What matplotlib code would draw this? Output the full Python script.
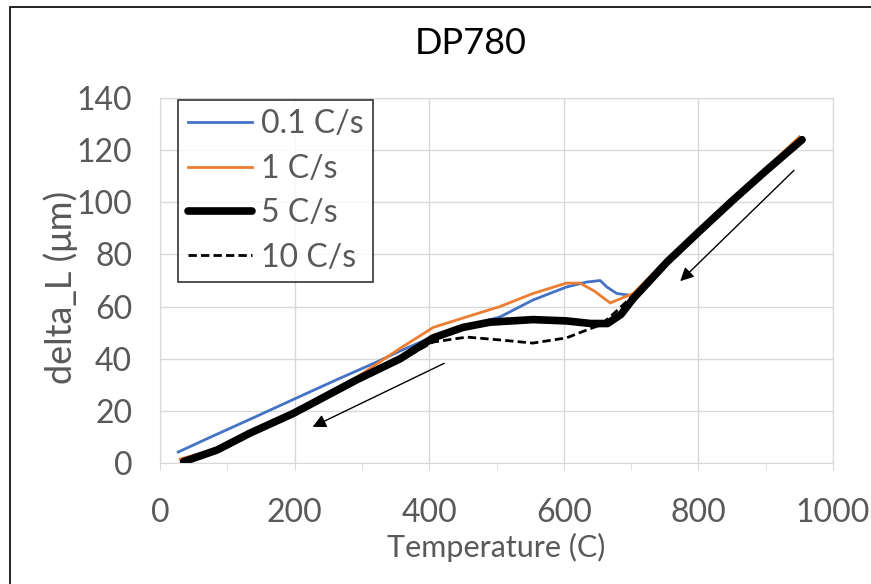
import matplotlib.pyplot as plt
from matplotlib.patches import Rectangle

# Data (temperature in C, delta_L in um)
t_01 = [27, 80, 140, 200, 263, 320, 357, 406, 455, 505, 554, 604, 634, 654, 664, 679, 694, 703,
        753, 800, 850, 900, 950]
l_01 = [4.2, 10.5, 17.5, 24.6, 32, 38.5, 43, 48.5, 52.5, 56, 62.5, 67.5, 69.4, 70, 67.5, 65, 64.5,
        64, 76, 88, 100, 112.5, 125]

t_1 = [30, 85, 134, 198, 293, 357, 406, 455, 505, 554, 604, 624, 645, 669, 684, 703,
       753, 800, 850, 900, 950]
l_1 = [1.5, 5.5, 12, 19.5, 33, 44, 52, 56, 60, 65, 69, 69, 66, 61.4, 63, 65,
       78, 89, 101, 113, 125]

t_5 = [35, 85, 134, 198, 293, 357, 406, 450, 490, 554, 604, 640, 665, 685, 703,
       753, 800, 850, 900, 954]
l_5 = [0.5, 5, 11.5, 19, 32, 40, 48, 52, 54, 55, 54.5, 53.5, 53.5, 57, 63,
       77, 88.5, 100.5, 112, 124]

t_10 = [35, 85, 134, 198, 293, 357, 406, 456, 505, 554, 604, 634, 655, 675, 700,
        753, 800, 850, 900, 954]
l_10 = [0.3, 4.5, 11, 18.5, 31.5, 39.5, 46.4, 48.3, 47.2, 46, 48, 51, 53, 57.5, 63.5,
        77, 88.5, 100.5, 112, 124.5]

gray = "#595959"
plt.rcParams["font.family"] = ["Lato", "DejaVu Sans"]

fig = plt.figure(figsize=(8.71, 5.84), dpi=100)
ax = fig.add_axes([160 / 871, 1 - 463 / 584, 673 / 871, 365 / 584])

ax.plot(t_01, l_01, color="#4472C4", lw=2, label="0.1 C/s")
ax.plot(t_1, l_1, color="#ED7D31", lw=2, label="1 C/s")
ax.plot(t_5, l_5, color="black", lw=5.5, label="5 C/s", solid_capstyle="round")
ax.plot(t_10, l_10, color="black", lw=2, ls=(0, (3, 1.5)), label="10 C/s")

# arrows showing cooling direction
ax.annotate("", xy=(223, 13.4), xytext=(426, 38.7),
            arrowprops=dict(arrowstyle="-|>", color="black", lw=1, mutation_scale=20))
ax.annotate("", xy=(770, 69), xytext=(945, 113),
            arrowprops=dict(arrowstyle="-|>", color="black", lw=1, mutation_scale=20))

ax.set_xlim(0, 1000)
ax.set_ylim(0, 140)
ax.set_xticks(range(0, 1001, 200))
ax.set_xticks(range(0, 1001, 100), minor=True)
ax.set_yticks(range(0, 141, 20))
ax.grid(True, color="#D9D9D9", lw=1)
for s in ax.spines.values():
    s.set_color("#D9D9D9")
ax.tick_params(axis="x", which="both", length=5, color="#D9D9D9", labelsize=23,
               labelcolor=gray, pad=20)
ax.tick_params(axis="y", length=0, labelsize=23, labelcolor=gray, pad=20)

fig.text(471 / 871, 1 - 43 / 584, "DP780", fontsize=26, color="black",
         ha="center", va="center")
ax.set_xlabel("Temperature (C)", fontsize=22, color=gray, labelpad=4)
ax.set_ylabel("delta_L (\u03bcm)", fontsize=26, color=gray)
ax.yaxis.set_label_coords(-0.122, 0.48)

leg = ax.legend(loc="upper left", bbox_to_anchor=(0.027, 0.995), borderaxespad=0,
                fontsize=23, frameon=True, fancybox=False, edgecolor="black",
                handlelength=2.0, handletextpad=0.3, labelspacing=0.45,
                borderpad=0.3)
leg.get_frame().set_linewidth(1.2)
for txt in leg.get_texts():
    txt.set_color(gray)

# outer border of the picture
fig.patches.append(Rectangle((10 / 871, -0.1), 2, 1 - 7 / 584 + 0.1,
                             transform=fig.transFigure, fill=False,
                             edgecolor="black", lw=1.2))

fig.savefig("out.png", dpi=100)
